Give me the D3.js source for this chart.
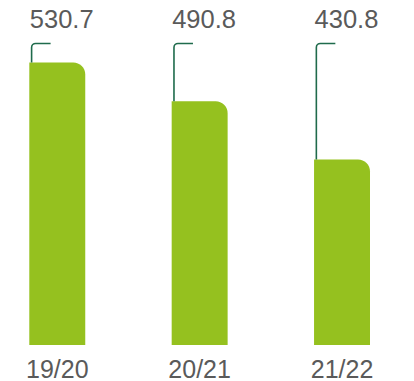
<!DOCTYPE html>
<html>
<head>
<meta charset="utf-8">
<script src="https://cdn.jsdelivr.net/npm/d3@7"></script>
<style>
  html, body { margin: 0; padding: 0; background: #ffffff; }
  svg { display: block; }
  text { font-family: "Liberation Sans", Arial, Helvetica, sans-serif; }
</style>
</head>
<body>
<svg id="chart" width="414" height="381"></svg>
<script>
// Seasons and their values
const seasons = ["19/20", "20/21", "21/22"];
const values = [530.7, 490.8, 430.8];
const valueLabels = ["530.7", "490.8", "430.8"];

const width = 414, height = 381;
const baseY = 345;

const svg = d3.select("#chart");

const x = d3.scaleBand()
  .domain(seasons)
  .range([29.3, 370])
  .paddingInner(0.607)
  .paddingOuter(0);

const y = d3.scaleLinear()
  .domain([240, 530.7])
  .range([baseY, 62.5]);

const barColor = "#95c11f";
const leaderColor = "#1f6b4c";
const textColor = "#5a5a5a";
const radius = 12;

const data = seasons.map((s, i) => ({ season: s, value: values[i], label: valueLabels[i] }));

// Bars: square corners except a rounded top-right corner
function barPath(d) {
  const x0 = x(d.season), x1 = x0 + x.bandwidth();
  const top = y(d.value), bottom = baseY;
  const r = Math.min(radius, x.bandwidth() / 2);
  return `M${x0},${bottom}V${top}H${x1 - r}A${r},${r} 0 0 1 ${x1},${top + r}V${bottom}Z`;
}

svg.append("g")
  .selectAll("path")
  .data(data)
  .join("path")
  .attr("d", barPath)
  .attr("fill", barColor);

// Leader brackets from the bar top up to the value label
const leaderTop = 43.5;
const cr = 4;
svg.append("g")
  .selectAll("path")
  .data(data)
  .join("path")
  .attr("d", d => {
    const lx = x(d.season) + 2.3;
    const top = y(d.value);
    return `M${lx},${top}V${leaderTop + cr}A${cr},${cr} 0 0 1 ${lx + cr},${leaderTop}H${lx + 19}`;
  })
  .attr("fill", "none")
  .attr("stroke", leaderColor)
  .attr("stroke-width", 1.6);

// Value labels
svg.append("g")
  .selectAll("text")
  .data(data)
  .join("text")
  .attr("x", d => x(d.season) + 0.5)
  .attr("y", 28.3)
  .attr("fill", textColor)
  .attr("font-size", 25.5)
  .text(d => d.label);

// Season labels
svg.append("g")
  .selectAll("text")
  .data(data)
  .join("text")
  .attr("x", d => x(d.season) + x.bandwidth() / 2)
  .attr("y", 377.5)
  .attr("text-anchor", "middle")
  .attr("fill", textColor)
  .attr("font-size", 25)
  .text(d => d.season);
</script>
</body>
</html>
